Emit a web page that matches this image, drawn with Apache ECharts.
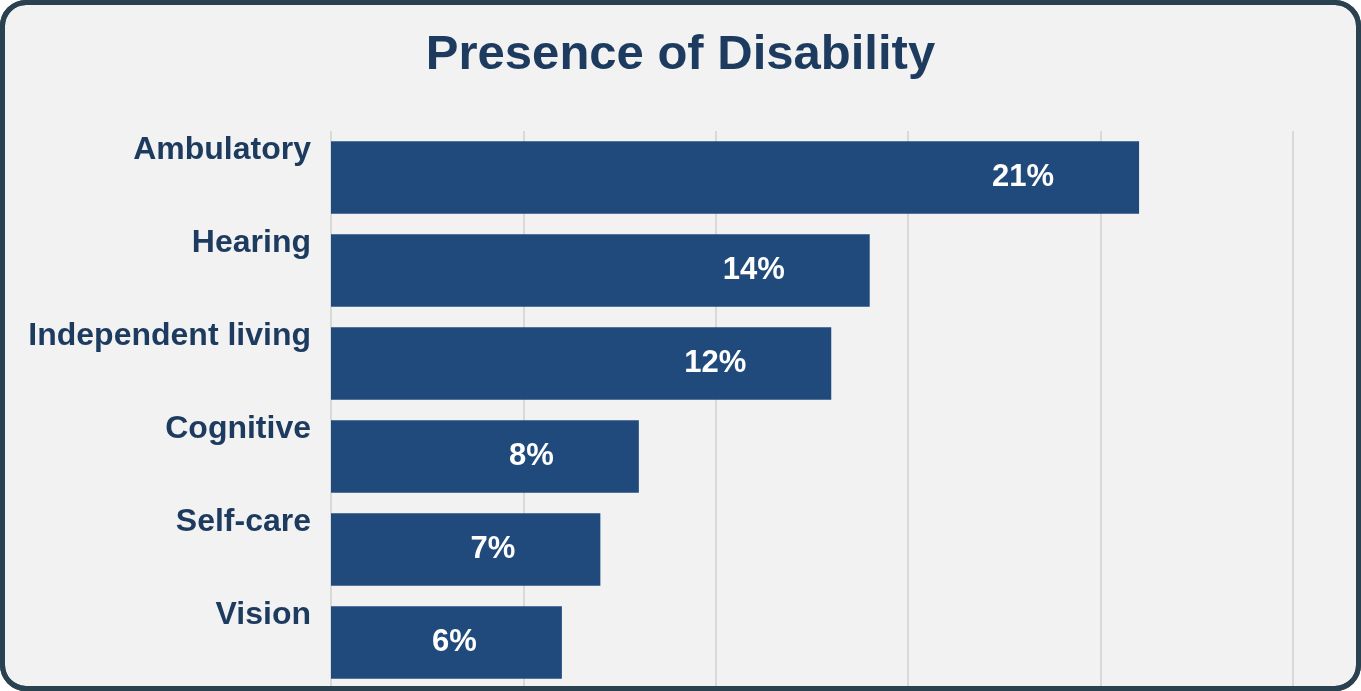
<!DOCTYPE html>
<html>
<head>
<meta charset="utf-8">
<script src="https://cdn.jsdelivr.net/npm/echarts@6/dist/echarts.min.js"></script>
<style>
  html, body { margin: 0; padding: 0; background: #ffffff; }
  #wrap { position: relative; width: 1361px; height: 691px; }
  #frame { position: absolute; left: 0; top: 0; width: 1361px; height: 691px; box-sizing: border-box;
           border: 5px solid #2a4150; border-radius: 26px; background: #f2f2f2; }
  #chart { position: absolute; left: 0; top: 0; width: 1361px; height: 691px; }
  #edge { position: absolute; left: 0; top: 0; width: 1361px; height: 691px; box-sizing: border-box;
          border: 5px solid #2a4150; border-radius: 26px; pointer-events: none; }
</style>
</head>
<body>
<div id="wrap">
  <div id="frame"></div>
  <div id="chart"></div>
  <div id="edge"></div>
</div>
<script>
const categories = ["Ambulatory", "Hearing", "Independent living", "Cognitive", "Self-care", "Vision"];
const values = [21, 14, 13, 8, 7, 6];
const valueLabels = ["21%", "14%", "12%", "8%", "7%", "6%"];
const xTicks = [0, 5, 10, 15, 20, 25];

const FONT = '"Liberation Sans", Arial, sans-serif';
const chart = echarts.init(document.getElementById('chart'), null, { renderer: 'canvas' });
chart.setOption({
  backgroundColor: 'transparent',
  animation: false,
  title: {
    text: 'Presence of Disability',
    left: 'center',
    top: 26,
    textStyle: { fontFamily: FONT, fontWeight: 'bold', fontSize: 49, color: '#1d3a5f' }
  },
  grid: { left: 331, right: 68, top: 131, bottom: 2, containLabel: false },
  xAxis: {
    type: 'value',
    min: xTicks[0],
    max: xTicks[xTicks.length - 1],
    interval: xTicks[1] - xTicks[0],
    axisLabel: { show: false },
    axisLine: { show: false },
    axisTick: { show: false },
    splitLine: { show: true, lineStyle: { color: '#d9d9d9', width: 2 } }
  },
  yAxis: {
    type: 'category',
    data: categories,
    inverse: true,
    axisLine: { show: false },
    axisTick: { show: false },
    axisLabel: {
      margin: 20,
      fontFamily: FONT,
      fontWeight: 'bold',
      fontSize: 32,
      color: '#1d3a5f',
      verticalAlign: 'bottom',
      lineHeight: 54
    }
  },
  series: [{
    type: 'bar',
    data: values,
    barCategoryGap: '22%',
    itemStyle: { color: '#204a7b' },
    label: {
      show: true,
      position: 'insideRight',
      distance: 85,
      fontFamily: FONT,
      fontWeight: 'bold',
      fontSize: 31,
      color: '#ffffff',
      formatter: p => valueLabels[p.dataIndex]
    }
  }]
});
</script>
</body>
</html>
